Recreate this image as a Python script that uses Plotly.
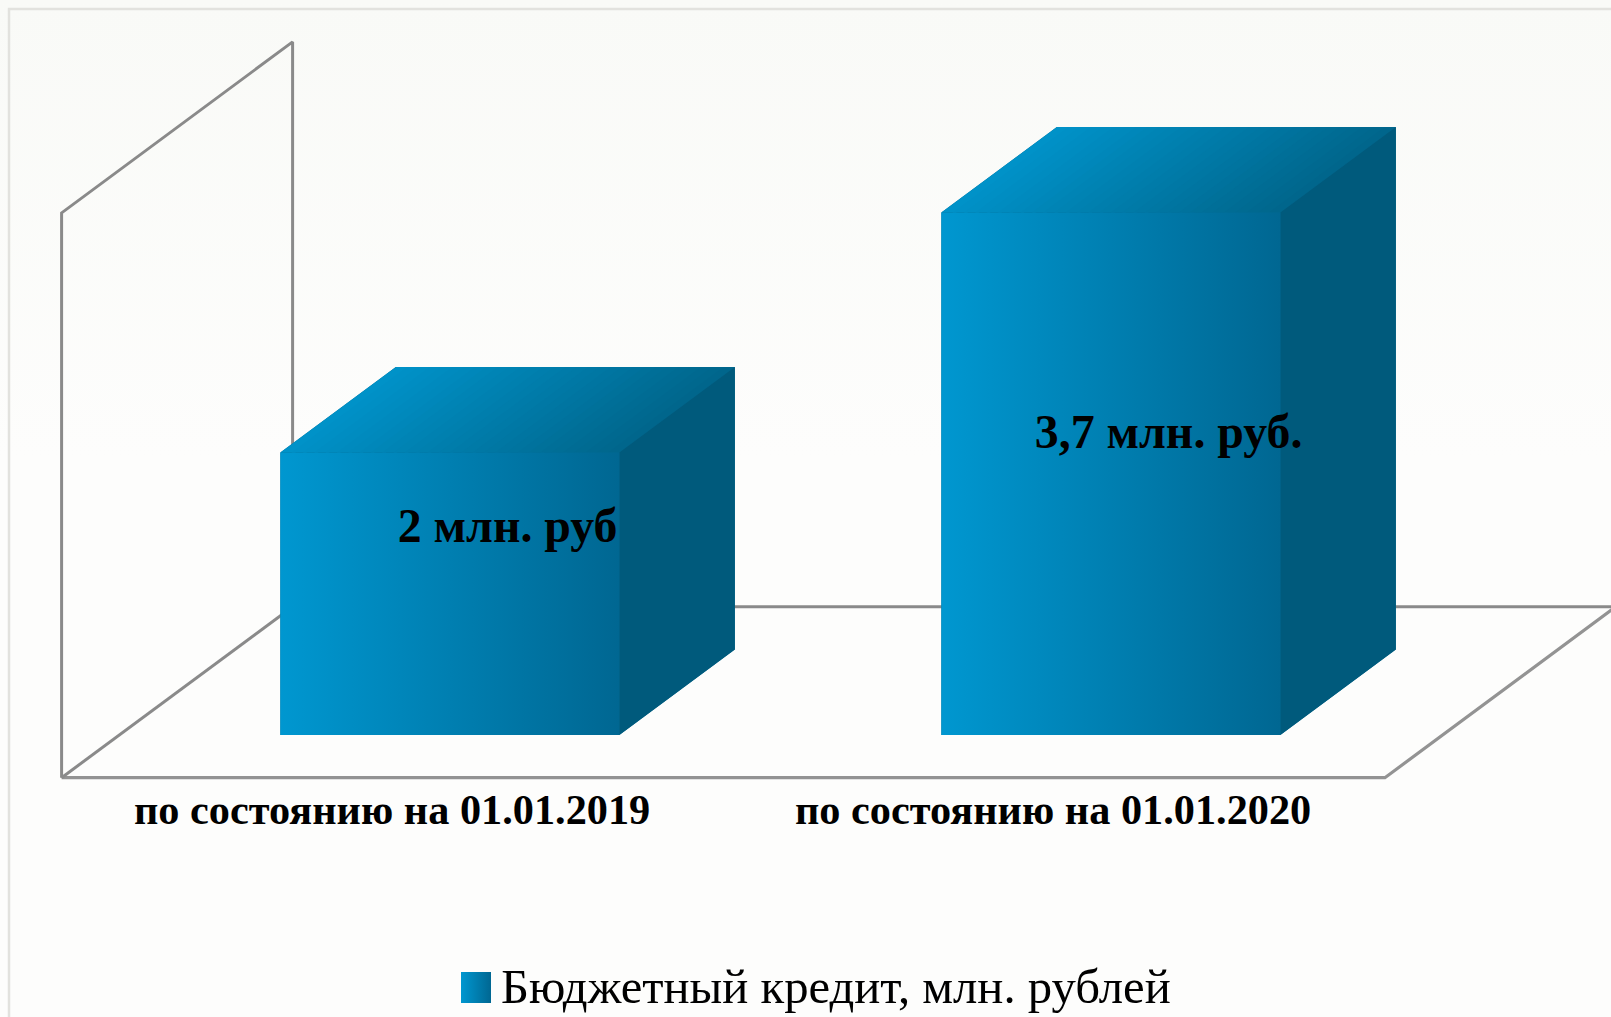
import plotly.graph_objects as go

# ---- data ----
categories = ["по состоянию на 01.01.2019", "по состоянию на 01.01.2020"]
values = [2.0, 3.7]
value_labels = ["2 млн. руб", "3,7 млн. руб."]
label_levels = [1.15, 1.815]
series_name = "Бюджетный кредит, млн. рублей"
y_max = 4.0

# ---- geometry (oblique projection) ----
W, H = 1611, 1017
PX_PER_CAT = 661.0
PX_PER_VAL = 141.2
X0_PX = 61.6      # pixel of category edge -0.5 on the front floor line
Y0_PX = 777.7     # pixel of value 0 on the front floor line
DX = 231 / PX_PER_CAT   # full depth, x units
DY = 171 / PX_PER_VAL   # full depth, y units
BAR_W = 339 / PX_PER_CAT
D_FRONT, D_BACK = 0.25, 0.75

x_range = [-0.5 - X0_PX / PX_PER_CAT, -0.5 + (W - X0_PX) / PX_PER_CAT]
y_range = [-(H - Y0_PX) / PX_PER_VAL, Y0_PX / PX_PER_VAL]

LINE = "#8a8a8a"
fig = go.Figure()


def poly(xs, ys, **kw):
    fig.add_trace(go.Scatter(x=xs, y=ys, mode="lines", fill="toself", showlegend=False,
                             hoverinfo="skip", **kw))


def path(xs, ys, width=3, color=LINE):
    fig.add_trace(go.Scatter(x=xs, y=ys, mode="lines", showlegend=False, hoverinfo="skip",
                             line=dict(color=color, width=width)))


def mix(c0, c1, f):
    return "rgb(%d,%d,%d)" % tuple(round(a + (b - a) * f) for a, b in zip(c0, c1))


# page background gradient
poly([x_range[0], x_range[1], x_range[1], x_range[0]],
     [y_range[1], y_range[1], y_range[0], y_range[0]],
     line=dict(width=0),
     fillgradient=dict(type="vertical",
                       colorscale=[[0, "#fdfdfc"], [0.55, "#fdfdfc"], [1, "#f9faf7"]]))

# frame
fx = x_range[0] + 9 / PX_PER_CAT
fy = y_range[1] - 9 / PX_PER_VAL
path([fx, fx, x_range[1]], [y_range[0], fy, fy], width=2.5, color="#e2e2de")

# wall and floor
xl, xr = -0.5, 1.502
path([xl, xl, xl + DX, xl + DX], [0, y_max, y_max + DY, DY])
path([xl + DX, x_range[1]], [DY, DY])
path([xl, xr, xr + DX], [0, 0, DY], width=3.2, color="#939393")
path([xl, xl + DX], [0, DY])

FRONT = [[0, "#0097d0"], [1, "#006792"]]
TOP_L, TOP_R = (0, 146, 200), (0, 102, 140)
SIDE = "#005a7c"
N_STRIPS = 30
for i, v in enumerate(values):
    l = i - BAR_W / 2 + D_FRONT * DX
    r = i + BAR_W / 2 + D_FRONT * DX
    b = D_FRONT * DY
    t = v + D_FRONT * DY
    ddx = (D_BACK - D_FRONT) * DX
    ddy = (D_BACK - D_FRONT) * DY
    # backing silhouette closes hairline seams between the faces
    poly([l, r, r + ddx, r + ddx, l + ddx, l], [b, b, b + ddy, t + ddy, t + ddy, t],
         line=dict(width=0), fillcolor="#00698f")
    # top: skewed gradient built from strips parallel to the depth edge
    for k in range(N_STRIPS):
        u0 = l + (r - l) * k / N_STRIPS
        u1 = l + (r - l) * min(k + 1.3, N_STRIPS) / N_STRIPS
        poly([u0, u1, u1 + ddx, u0 + ddx], [t, t, t + ddy, t + ddy], line=dict(width=0),
             fillcolor=mix(TOP_L, TOP_R, k / (N_STRIPS - 1)))
    # side
    poly([r, r + ddx, r + ddx, r], [b, b + ddy, t + ddy, t], line=dict(width=0), fillcolor=SIDE)
    # front
    poly([l, r, r, l], [b, b, t, t], line=dict(width=0),
         fillgradient=dict(type="horizontal", colorscale=FRONT))

# value labels
fig.add_trace(go.Scatter(
    x=[i + 0.5 * DX for i in range(len(values))],
    y=[lv + 0.5 * DY for lv in label_levels], mode="text",
    text=value_labels, textposition="middle center", showlegend=False, hoverinfo="skip",
    textfont=dict(family="Liberation Serif", size=47.8, color="#000000", weight="bold"),
))

# legend swatch on its own small axes
fig.add_trace(go.Scatter(
    x=[0, 1, 1, 0], y=[0, 0, 1, 1], mode="lines", fill="toself", xaxis="x2", yaxis="y2",
    line=dict(width=0), showlegend=False, hoverinfo="skip",
    fillgradient=dict(type="horizontal", colorscale=FRONT),
))

fig.add_annotation(text=series_name, xref="paper", yref="paper", x=499 / W, y=1 - 987 / H,
                   xanchor="left", yanchor="middle", showarrow=False,
                   font=dict(family="Liberation Serif", size=48.7, color="#000000"))

fig.update_layout(
    width=W, height=H, margin=dict(l=0, r=0, t=0, b=0), autosize=False,
    paper_bgcolor="#fdfdfc", plot_bgcolor="rgba(0,0,0,0)", showlegend=False,
    xaxis=dict(range=x_range, domain=[0, 1], anchor="free", position=1 - Y0_PX / H,
               tickmode="array", tickvals=[0, 1], ticktext=categories,
               ticks="", ticklabelstandoff=3, showline=False,
               showgrid=False, zeroline=False,
               tickfont=dict(family="Liberation Serif", size=42.3, color="#000000", weight="bold")),
    yaxis=dict(range=y_range, domain=[0, 1], visible=False, showgrid=False, zeroline=False),
    xaxis2=dict(range=[0, 1], domain=[461 / W, 491 / W], anchor="y2", visible=False),
    yaxis2=dict(range=[0, 1], domain=[1 - 1003 / H, 1 - 972 / H], anchor="x2", visible=False),
)

fig.write_html("out.html", config={"displayModeBar": False},
               post_script="document.body.style.margin='0';document.body.style.overflow='hidden';")
